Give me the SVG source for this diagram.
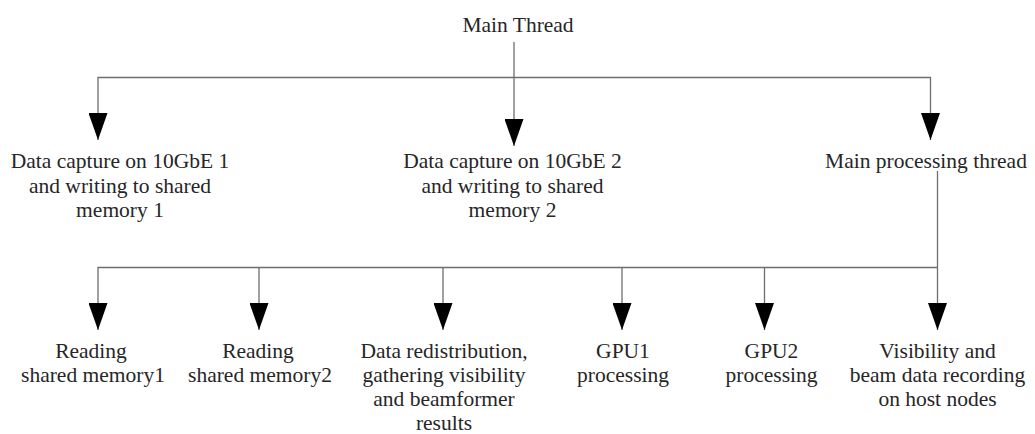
<svg xmlns="http://www.w3.org/2000/svg" width="1035" height="434" viewBox="0 0 1035 434">
  <style>
    .lbl { font-size: 21.5px; fill: #262626; text-anchor: middle; }
    .wire { fill: none; stroke: #6e6e6e; stroke-width: 1.3; }
  </style>
  <defs>
    <marker id="tri" markerUnits="userSpaceOnUse" markerWidth="28" markerHeight="19" refX="27" refY="9.5" orient="auto">
      <path d="M0,0 L27,9.5 L0,19 Z" fill="#000"/>
    </marker>
  </defs>
  <rect width="1035" height="434" fill="#fff"/>

  <g id="connectors">
    <!-- main thread fan-out -->
    <path class="wire" d="M514,42 V146" marker-end="url(#tri)"/>
    <path class="wire" d="M514,77.5 H98 V140" marker-end="url(#tri)"/>
    <path class="wire" d="M514,77.5 H930.5 V140" marker-end="url(#tri)"/>
    <!-- main processing thread fan-out -->
    <path class="wire" d="M937.5,171 V330" marker-end="url(#tri)"/>
    <path class="wire" d="M937.5,267.5 H98 V330" marker-end="url(#tri)"/>
    <path class="wire" d="M259,267.5 V330" marker-end="url(#tri)"/>
    <path class="wire" d="M443,267.5 V330" marker-end="url(#tri)"/>
    <path class="wire" d="M622,267.5 V330" marker-end="url(#tri)"/>
    <path class="wire" d="M764.5,267.5 V330" marker-end="url(#tri)"/>
  </g>

  <g font-family="Liberation Serif, Times New Roman, serif">
  <g id="main-thread">
    <text class="lbl" x="518" y="31.5">Main Thread</text>
  </g>
  <g id="capture-1">
    <text class="lbl" x="120" y="168">Data capture on 10GbE 1</text>
    <text class="lbl" x="120" y="192.5">and writing to shared</text>
    <text class="lbl" x="120" y="217">memory 1</text>
  </g>
  <g id="capture-2">
    <text class="lbl" x="512.5" y="168">Data capture on 10GbE 2</text>
    <text class="lbl" x="512.5" y="192.5">and writing to shared</text>
    <text class="lbl" x="512.5" y="217">memory 2</text>
  </g>
  <g id="main-processing">
    <text class="lbl" x="926" y="168">Main processing thread</text>
  </g>
  <g id="read-shm1">
    <text class="lbl" x="91" y="358">Reading</text>
    <text class="lbl" x="93" y="382">shared memory1</text>
  </g>
  <g id="read-shm2">
    <text class="lbl" x="258" y="358">Reading</text>
    <text class="lbl" x="260" y="382">shared memory2</text>
  </g>
  <g id="redistribution">
    <text class="lbl" x="444" y="358">Data redistribution,</text>
    <text class="lbl" x="444" y="382">gathering visibility</text>
    <text class="lbl" x="444" y="406">and beamformer</text>
    <text class="lbl" x="444" y="430">results</text>
  </g>
  <g id="gpu1">
    <text class="lbl" x="623" y="358">GPU1</text>
    <text class="lbl" x="623" y="382">processing</text>
  </g>
  <g id="gpu2">
    <text class="lbl" x="771.5" y="358">GPU2</text>
    <text class="lbl" x="771.5" y="382">processing</text>
  </g>
  <g id="recording">
    <text class="lbl" x="937.5" y="358">Visibility and</text>
    <text class="lbl" x="937.5" y="382">beam data recording</text>
    <text class="lbl" x="937.5" y="406">on host nodes</text>
  </g>
  </g>
</svg>
